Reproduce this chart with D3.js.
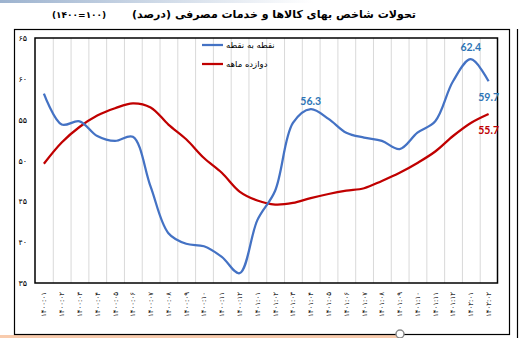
<!DOCTYPE html>
<html>
<head>
<meta charset="utf-8">
<script src="https://cdn.jsdelivr.net/npm/d3@7"></script>
<style>
  body { margin: 0; background: #fff; }
  svg { display: block; }
</style>
</head>
<body>
<div id="chart"></div>
<script>
'use strict';

// months 1400:01 .. 1402:02
const months = [
  "۱۴۰۰:۰۱", "۱۴۰۰:۰۲", "۱۴۰۰:۰۳", "۱۴۰۰:۰۴", "۱۴۰۰:۰۵", "۱۴۰۰:۰۶",
  "۱۴۰۰:۰۷", "۱۴۰۰:۰۸", "۱۴۰۰:۰۹", "۱۴۰۰:۱۰", "۱۴۰۰:۱۱", "۱۴۰۰:۱۲",
  "۱۴۰۱:۰۱", "۱۴۰۱:۰۲", "۱۴۰۱:۰۳", "۱۴۰۱:۰۴", "۱۴۰۱:۰۵", "۱۴۰۱:۰۶",
  "۱۴۰۱:۰۷", "۱۴۰۱:۰۸", "۱۴۰۱:۰۹", "۱۴۰۱:۱۰", "۱۴۰۱:۱۱", "۱۴۰۱:۱۲",
  "۱۴۰۲:۰۱", "۱۴۰۲:۰۲"
];
const pointToPoint = [
  58.2, 54.4, 54.8, 53.0, 52.4, 52.9, 46.8, 41.1, 39.8, 39.5, 38.2, 36.2, 42.7,
  46.3, 54.6, 56.3, 55.1, 53.4, 52.8, 52.4, 51.4, 53.4, 54.8, 59.7, 62.4, 59.7
];
const twelveMonth = [
  49.6, 52.2, 54.1, 55.5, 56.4, 57.0, 56.5, 54.4, 52.6, 50.3, 48.5, 46.2, 45.1,
  44.6, 44.8, 45.4, 45.9, 46.3, 46.6, 47.5, 48.5, 49.7, 51.1, 53.0, 54.6, 55.7
];
const seriesNames = ["نقطه به نقطه", "دوازده ماهه"];
const yTicks = [35, 40, 45, 50, 55, 60, 65];
const yTickLabels = ["۳۵", "۴۰", "۴۵", "۵۰", "۵۵", "۶۰", "۶۵"];
// labelled points: [series, index]
const labelled = [[0, 15], [0, 24], [0, 25], [1, 25]];

const W = 522, H = 338;
const blue = "#4472C4", red = "#C00000";
const labelColors = ["#2E75B6", "#C00000"];
const faFont = "DejaVu Sans, sans-serif";

const svg = d3.select('#chart').append('svg')
    .attr("width", W)
    .attr("height", H);

// top strip + frames (page furniture around the chart)
const grad = svg.append("defs").append("linearGradient").attr("id", "topg");
grad.append("stop").attr("offset", "0%").attr("stop-color", "#9db3cf");
grad.append("stop").attr("offset", "60%").attr("stop-color", "#ffffff");
svg.append("rect").attr("x", 0).attr("y", 0).attr("width", W).attr("height", 3)
    .attr("fill", "url(#topg)");

svg.append("rect").attr("x", 0).attr("y", 335).attr("width", 400).attr("height", 3)
    .attr("fill", "#F8CBAD");
svg.append("rect").attr("x", 14.5).attr("y", 29.5).attr("width", 495).attr("height", 305)
    .attr("fill", "none").attr("stroke", "#000").attr("stroke-width", 1.2);
svg.append("line").attr("x1", 517.5).attr("x2", 517.5).attr("y1", 29).attr("y2", 338)
    .attr("stroke", "#000").attr("stroke-width", 1.2);
svg.append("circle").attr("cx", 400).attr("cy", 334).attr("r", 4)
    .attr("fill", "#fff").attr("stroke", "#888").attr("stroke-width", 1.5);

// title
svg.append("text")
    .attr("x", 274).attr("y", 18)
    .attr("text-anchor", "middle")
    .attr("direction", "rtl")
    .style("font-family", faFont)
    .style("font-weight", "bold")
    .style("font-size", "11px")
    .text("تحولات شاخص بهای کالاها و خدمات مصرفی  (درصد)");
svg.append("text")
    .attr("x", 52).attr("y", 18)
    .attr("text-anchor", "start")
    .attr("direction", "ltr")
    .style("unicode-bidi", "bidi-override")
    .style("font-family", faFont)
    .style("font-weight", "bold")
    .style("font-size", "9px")
    .text("(۱۴۰۰=۱۰۰)");

const pLeft = 35, pRight = 497.5, pTop = 38, pBottom = 283;

const x = d3.scaleBand().domain(months).range([pLeft, pRight]).padding(0);
const y = d3.scaleLinear().domain([35, 65]).range([pBottom, pTop]);
const cx = (d, i) => x(months[i]) + x.bandwidth() / 2;

const g = svg.append('g');

// vertical gridlines at category boundaries
g.selectAll('line.grid').data(months.slice(1)).enter().append('line')
    .attr('class', 'grid')
    .attr('x1', d => x(d) + 0.5).attr('x2', d => x(d) + 0.5)
    .attr('y1', pTop).attr('y2', pBottom)
    .attr('stroke', '#D9D9D9').attr('stroke-width', 1);

// plot box
g.append('rect')
    .attr('x', pLeft).attr('y', pTop)
    .attr('width', pRight - pLeft).attr('height', pBottom - pTop)
    .attr('fill', 'none').attr('stroke', '#000').attr('stroke-width', 1.5);

// y axis
const yAxis = g.append('g')
    .attr('transform', 'translate(' + 27 + ',0)')
    .call(d3.axisLeft(y).tickValues(yTicks).tickSize(0)
        .tickFormat((d, i) => yTickLabels[i]));
yAxis.select('.domain').remove();
yAxis.selectAll('text')
    .attr('x', 0)
    .attr('text-anchor', 'end')
    .style('font-family', faFont)
    .style('font-size', '8px')
    .style('fill', '#000');

// x axis
const xAxis = g.append('g')
    .attr('transform', 'translate(0,' + pBottom + ')')
    .call(d3.axisBottom(x).tickSize(0));
xAxis.select('.domain').remove();
xAxis.selectAll('text')
    .attr('transform', 'rotate(-90)')
    .attr('x', -9).attr('y', 0).attr('dy', '0.35em')
    .attr('text-anchor', 'end')
    .attr('direction', 'ltr')
    .style('unicode-bidi', 'bidi-override')
    .style('font-family', faFont)
    .style('font-size', '7px')
    .style('fill', '#000');

// lines
const line = d3.line()
    .x(cx)
    .y(d => y(d))
    .curve(d3.curveCatmullRom);

g.append('path').datum(twelveMonth)
    .attr('d', line)
    .attr('fill', 'none').attr('stroke', red).attr('stroke-width', 2.25);
g.append('path').datum(pointToPoint)
    .attr('d', line)
    .attr('fill', 'none').attr('stroke', blue).attr('stroke-width', 2.25);

// data labels
const series = [pointToPoint, twelveMonth];
const labelOffsets = { "0-15": [0, -4], "0-24": [0, -8], "0-25": [0, 20], "1-25": [0, 20] };
g.selectAll('text.dl').data(labelled).enter().append('text')
    .attr('class', 'dl')
    .attr('x', d => cx(null, d[1]) + labelOffsets[d[0] + '-' + d[1]][0])
    .attr('y', d => y(series[d[0]][d[1]]) + labelOffsets[d[0] + '-' + d[1]][1])
    .attr('text-anchor', 'middle')
    .style('font-family', 'Lato, sans-serif')
    .style('font-weight', 'bold')
    .style('font-size', '10.5px')
    .style('fill', d => labelColors[d[0]])
    .text(d => series[d[0]][d[1]].toFixed(1));

// legend
const legend = g.selectAll('g.leg').data(seriesNames).enter().append('g')
    .attr('class', 'leg')
    .attr('transform', (d, i) => 'translate(202,' + (45 + i * 19) + ')');
legend.append('line')
    .attr('x1', 0).attr('x2', 21)
    .attr('stroke', (d, i) => i === 0 ? blue : red)
    .attr('stroke-width', 2.25);
legend.append('text')
    .attr('x', 24).attr('dy', '0.35em')
    .style('font-family', faFont)
    .style('font-size', '8.5px')
    .text(d => d);
</script>
</body>
</html>
